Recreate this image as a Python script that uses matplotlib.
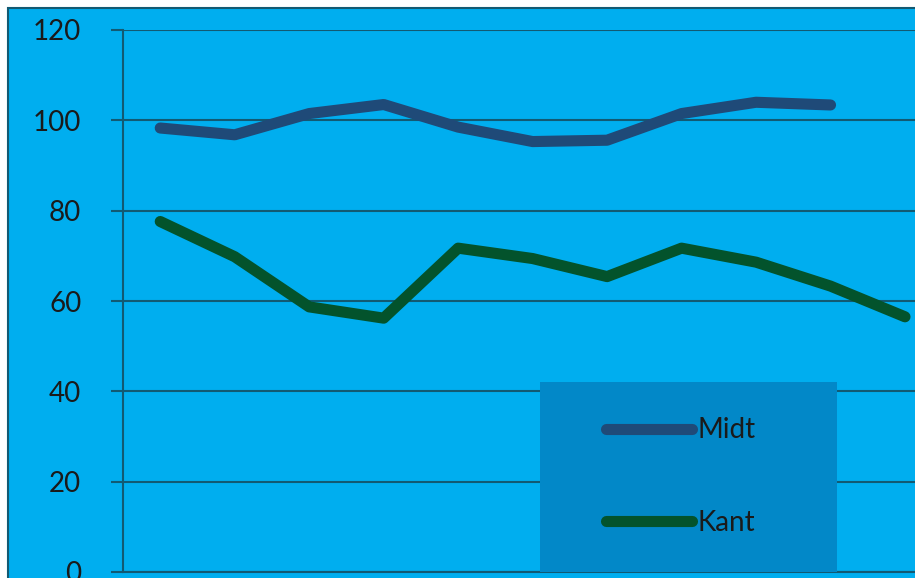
import numpy as np
import matplotlib.pyplot as plt
from matplotlib.patches import Rectangle

# values
categories = list(range(1, 12))
midt = [98.3, 96.8, 101.5, 103.5, 98.5, 95.3, 95.6, 101.5, 104.0, 103.4]
kant = [77.6, 69.8, 58.7, 56.2, 71.7, 69.4, 65.4, 71.7, 68.6, 63.3, 56.5]
yticks = [0, 20, 40, 60, 80, 100, 120]

bg = '#00aeef'
grid_col = '#125a73'
midt_col = '#1f4a78'
kant_col = '#03532c'

plt.rcParams['font.family'] = ['Lato', 'DejaVu Sans']

fig = plt.figure(figsize=(9.15, 5.78), dpi=100, facecolor='white')

# chart area with thin border
fig.add_artist(Rectangle((8 / 915, -0.05), 1.1, 1 - 8 / 578 + 0.05,
                         transform=fig.transFigure, facecolor=bg,
                         edgecolor=grid_col, linewidth=1.5, zorder=-1))

ax = fig.add_axes([123 / 915, 6 / 578, 1 - 123 / 915, 542 / 578])
ax.set_facecolor('none')

x = np.arange(len(kant))
ax.plot(x[:len(midt)], midt, color=midt_col, linewidth=8,
        solid_capstyle='round', solid_joinstyle='round', label='Midt', zorder=3)
ax.plot(x, kant, color=kant_col, linewidth=8,
        solid_capstyle='round', solid_joinstyle='round', label='Kant', zorder=3)

ax.set_ylim(0, 120)
ax.set_xlim(-0.5, (915 - 160) / 74.5)
ax.set_yticks(yticks)
ax.set_xticks([])
ax.yaxis.grid(True, color=grid_col, linewidth=1.5)
ax.set_axisbelow(True)
ax.tick_params(axis='y', length=9, width=1.5, color=grid_col, pad=21,
               labelsize=20, labelcolor='#1a1a1a')
for s in ['top', 'right']:
    ax.spines[s].set_visible(False)
for s in ['left', 'bottom']:
    ax.spines[s].set_color(grid_col)
    ax.spines[s].set_linewidth(1.5)

# legend box
ax.add_patch(Rectangle(((540 - 123) / 792, 0), (837 - 540) / 792, (572 - 382) / 542,
                       transform=ax.transAxes, facecolor='#0288c8',
                       edgecolor='none', zorder=4))
leg = ax.legend(loc='center left', bbox_to_anchor=((606 - 123) / 792, 0.176),
                frameon=False, fontsize=20, handlelength=3.1, handletextpad=0.2,
                labelspacing=2.4, borderpad=0, borderaxespad=0)
leg.set_zorder(5)
for t in leg.get_texts():
    t.set_color('#1a1a1a')

plt.savefig('out.png', dpi=100)
